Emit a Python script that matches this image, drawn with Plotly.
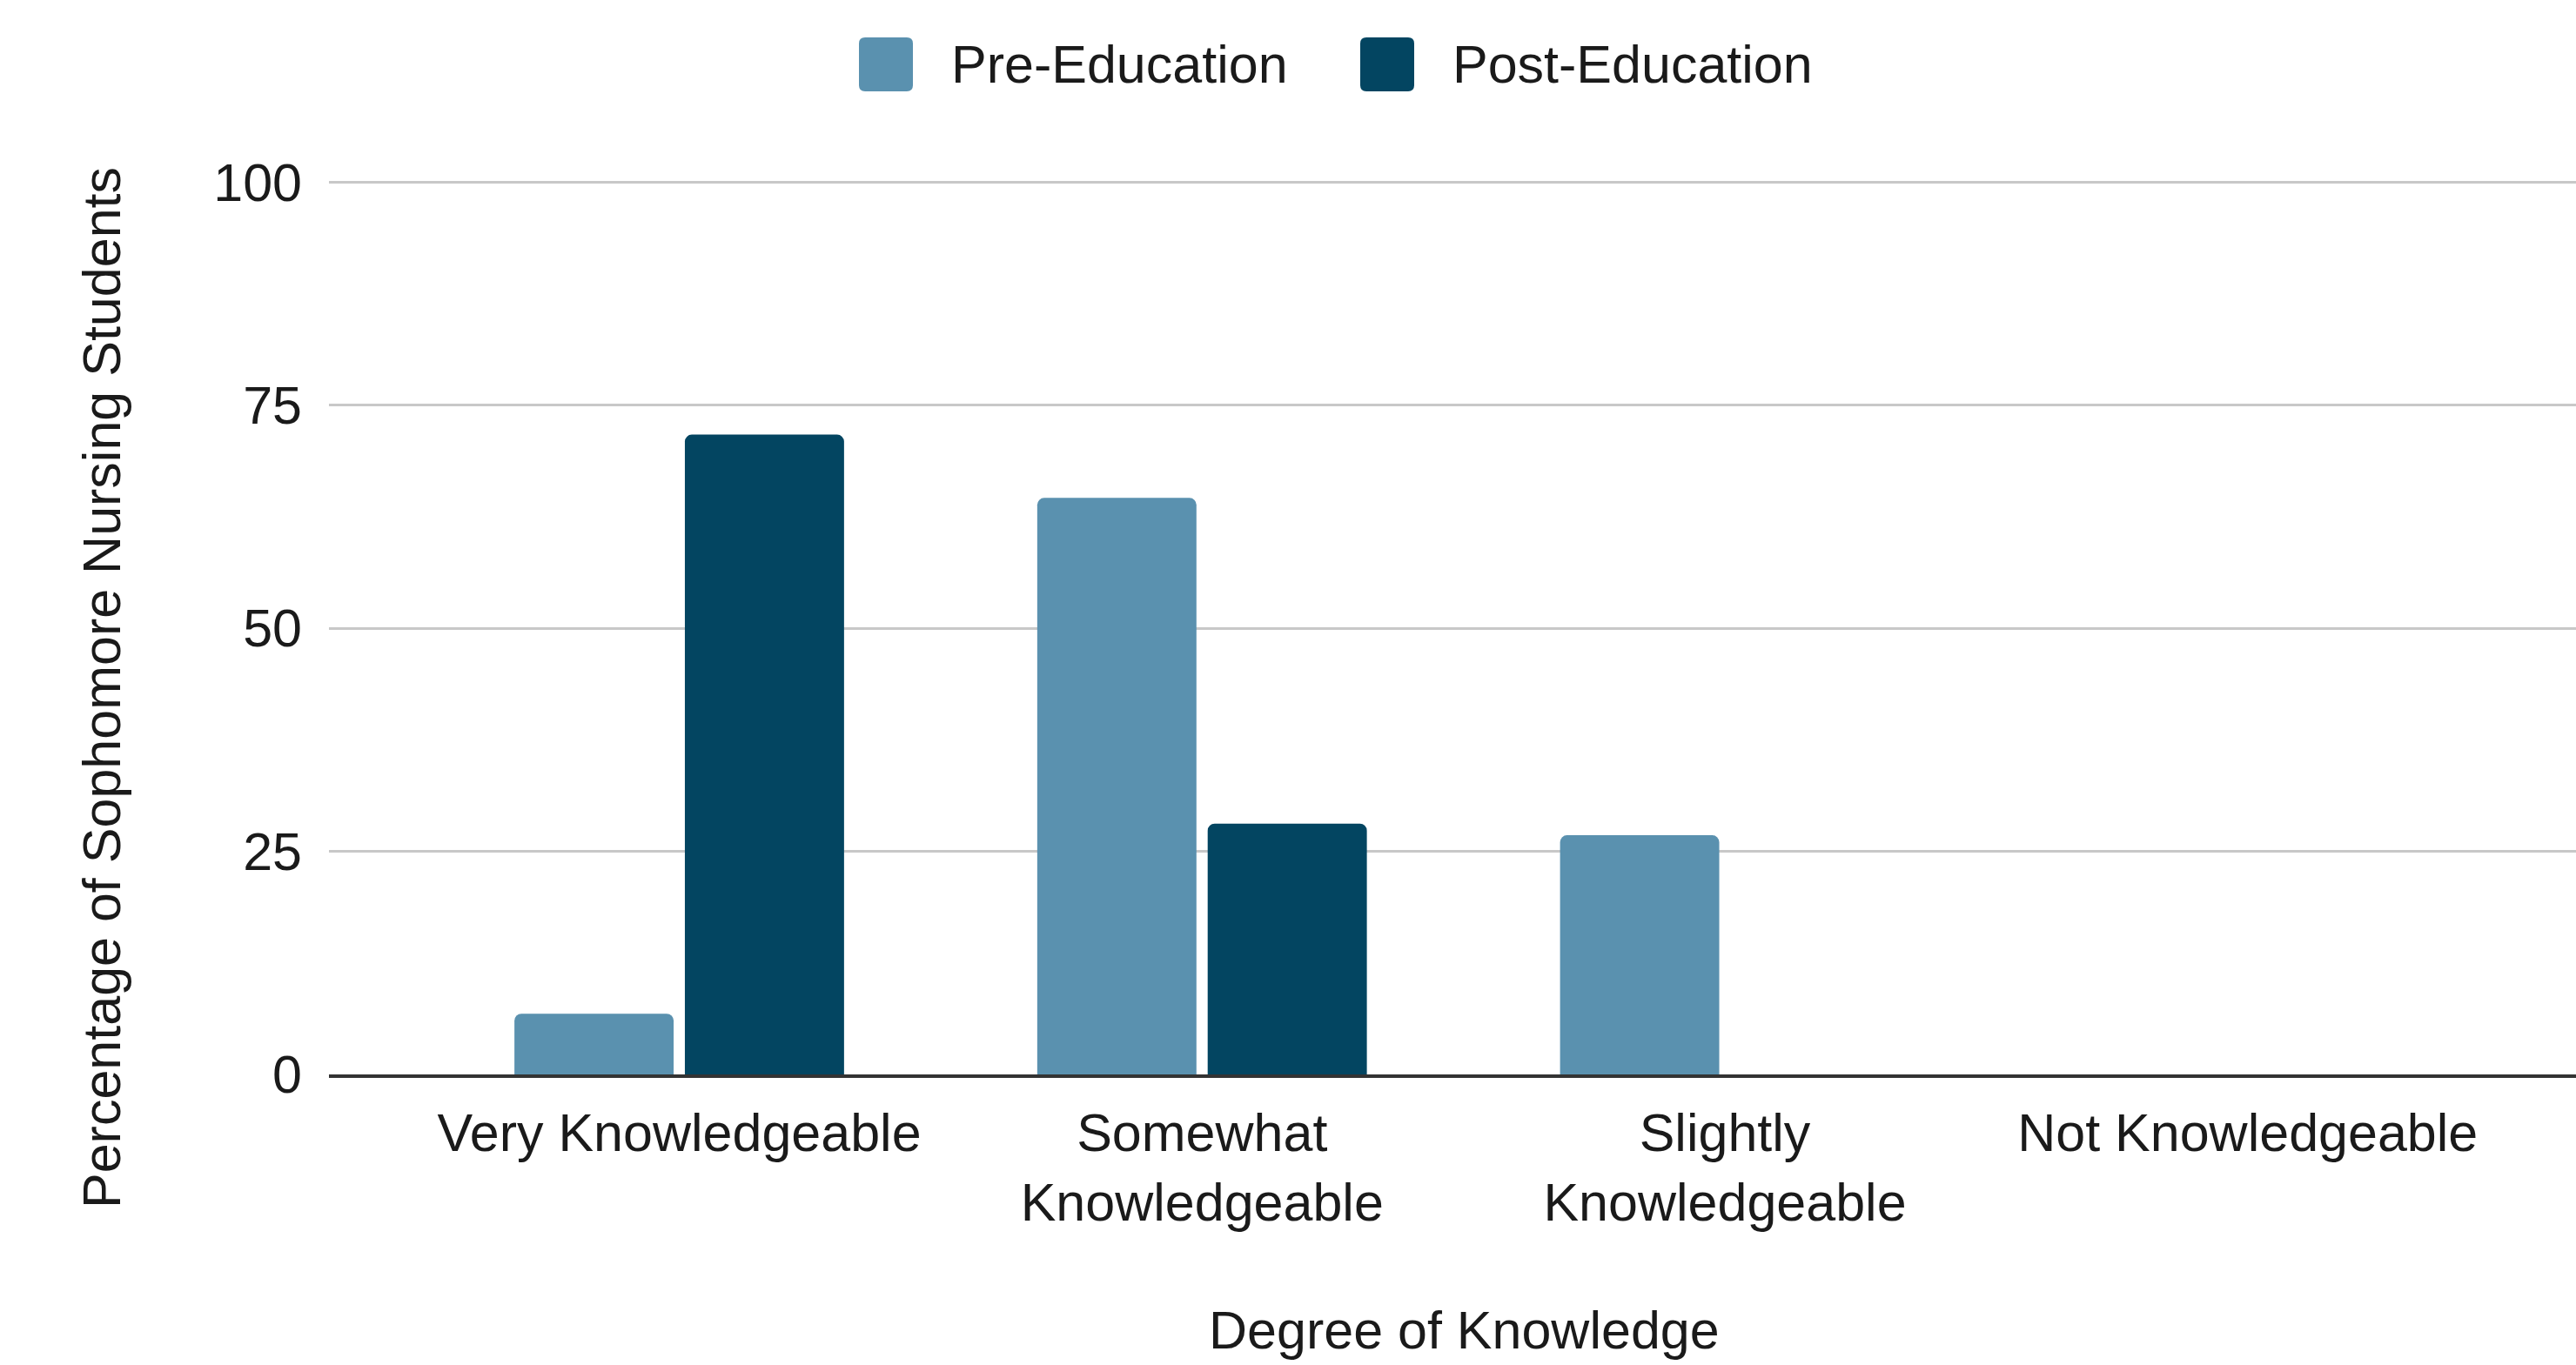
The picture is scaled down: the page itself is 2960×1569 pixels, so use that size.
import plotly.graph_objects as go

categories = ["Very Knowledgeable", "Somewhat<br>Knowledgeable", "Slightly<br>Knowledgeable", "Not Knowledgeable"]
pre_education = [6.8, 64.6, 26.8, 0]
post_education = [71.7, 28.1, 0, 0]
series_names = ["Pre-Education", "Post-Education"]
y_ticks = [0, 25, 50, 75, 100]

PRE_COLOR = "#5A91AF"
POST_COLOR = "#034561"
FONT = "Liberation Sans, Arial, sans-serif"
TXT = "#1a1a1a"
FS = 61

W, H = 2960, 1569
L, R, T, B = 378, 0, 199, 334
PW = W - L - R
PH = H - T - B
Y_TOP = 101

def px(x):
    return (x - L) / PW

def py(y):
    return (H - B - y) / PH

fig = go.Figure()
fig.add_trace(go.Bar(x=list(range(len(categories))), y=pre_education, name=series_names[0],
                     marker=dict(color=PRE_COLOR, line=dict(width=0), cornerradius=8), showlegend=False))
fig.add_trace(go.Bar(x=list(range(len(categories))), y=post_education, name=series_names[1],
                     marker=dict(color=POST_COLOR, line=dict(width=0), cornerradius=8), showlegend=False))

fig.update_layout(
    width=W, height=H,
    margin=dict(l=L, r=R, t=T, b=B, pad=0),
    paper_bgcolor="white", plot_bgcolor="white",
    barmode="group", bargap=0.348, bargroupgap=0.066,
    font=dict(family=FONT, size=FS, color=TXT),
    showlegend=False,
)
fig.update_xaxes(
    range=[-0.67, 3.628], tickmode="array", tickvals=list(range(len(categories))), ticktext=categories,
    showgrid=False, zeroline=False, showline=True, linecolor="#333333", linewidth=4,
    ticks="", ticklabelstandoff=11, tickfont=dict(size=FS, color=TXT, family=FONT),
)
fig.update_yaxes(
    range=[0, Y_TOP], tickmode="array", tickvals=y_ticks, ticktext=[str(v) for v in y_ticks],
    showgrid=True, gridcolor="#c8c8c8", gridwidth=3, zeroline=False, showline=False,
    ticks="", ticklabelstandoff=30, tickfont=dict(size=FS, color=TXT, family=FONT),
)

# axis titles
fig.add_annotation(text="Percentage of Sophomore Nursing Students", xref="paper", yref="paper",
                   x=px(117), y=py(791), textangle=-90, showarrow=False,
                   xanchor="center", yanchor="middle", font=dict(size=FS, color=TXT, family=FONT))
fig.add_annotation(text="Degree of Knowledge", xref="paper", yref="paper",
                   x=px(1682), y=py(1529), showarrow=False,
                   xanchor="center", yanchor="middle", font=dict(size=FS, color=TXT, family=FONT))

# custom legend
s = 31
r = 7
path = (f"M {-s+r},{-s} L {s-r},{-s} Q {s},{-s} {s},{-s+r} L {s},{s-r} Q {s},{s} {s-r},{s} "
        f"L {-s+r},{s} Q {-s},{s} {-s},{s-r} L {-s},{-s+r} Q {-s},{-s} {-s+r},{-s} Z")
legend_items = [(series_names[0], PRE_COLOR, 1018, 1091), (series_names[1], POST_COLOR, 1594, 1667)]
for name, color, sx, tx in legend_items:
    fig.add_shape(type="path", xref="paper", yref="paper", xsizemode="pixel", ysizemode="pixel",
                  xanchor=px(sx), yanchor=py(74), path=path, fillcolor=color, line=dict(width=0))
    fig.add_annotation(text=name, xref="paper", yref="paper", x=px(tx), y=py(74), showarrow=False,
                       xanchor="left", yanchor="middle", font=dict(size=FS, color=TXT, family=FONT))

fig.write_html("out.html")
